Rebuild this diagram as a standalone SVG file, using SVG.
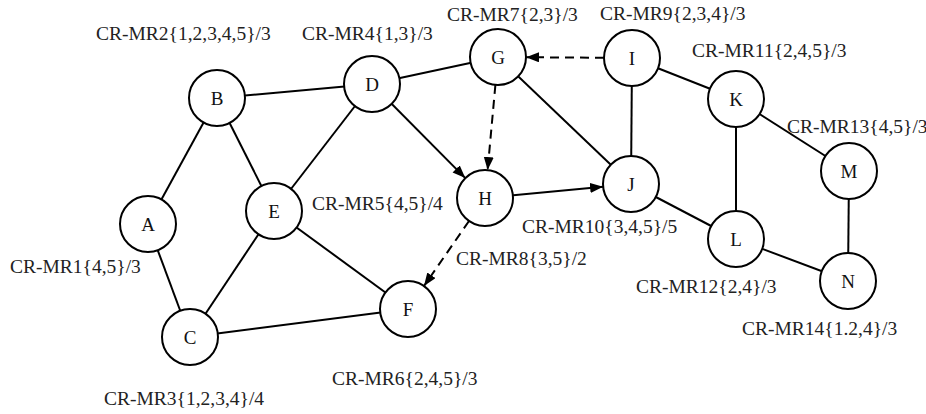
<svg xmlns="http://www.w3.org/2000/svg" width="926" height="414" viewBox="0 0 926 414">
<style>
.e{stroke:#000;stroke-width:2;fill:none}
.d{stroke-dasharray:9 6}
.n circle{fill:#fff;stroke:#000;stroke-width:2}
.n text{font-family:"Liberation Serif",serif;font-size:19px;text-anchor:middle;fill:#111}
.l{font-family:"Liberation Serif",serif;font-size:19.5px;fill:#222}
</style>
<defs>
<marker id="ah" markerUnits="userSpaceOnUse" markerWidth="15" markerHeight="11" refX="13" refY="5" orient="auto"><path d="M0,0 L13,5 L0,10 z" fill="#000"/></marker>
</defs>
<rect width="926" height="414" fill="#fff"/>
<g id="connectors">
<line class="e" x1="148" y1="224" x2="217" y2="98"/>
<line class="e" x1="217" y1="98" x2="274" y2="211"/>
<line class="e" x1="217" y1="98" x2="372" y2="84"/>
<line class="e" x1="148" y1="224" x2="190" y2="337"/>
<line class="e" x1="190" y1="337" x2="274" y2="211"/>
<line class="e" x1="190" y1="337" x2="408" y2="309"/>
<line class="e" x1="274" y1="211" x2="372" y2="84"/>
<line class="e" x1="274" y1="211" x2="408" y2="309"/>
<line class="e" x1="372" y1="84" x2="498" y2="57"/>
<line class="e" x1="498" y1="57" x2="631" y2="184"/>
<line class="e" x1="632" y1="58" x2="631" y2="184"/>
<line class="e" x1="632" y1="58" x2="736" y2="99"/>
<line class="e" x1="736" y1="99" x2="736" y2="239"/>
<line class="e" x1="736" y1="99" x2="849" y2="171"/>
<line class="e" x1="631" y1="184" x2="736" y2="239"/>
<line class="e" x1="736" y1="239" x2="848" y2="281"/>
<line class="e" x1="849" y1="171" x2="848" y2="281"/>
<line class="e" x1="372" y1="84" x2="465.3" y2="178.1" marker-end="url(#ah)"/>
<line class="e" x1="485" y1="198" x2="603.1" y2="186.7" marker-end="url(#ah)"/>
<line class="e d" x1="495.4" y1="84.9" x2="487.6" y2="170.1" marker-end="url(#ah)"/>
<line class="e d" x1="604" y1="57.8" x2="526" y2="57.2" marker-end="url(#ah)"/>
<line class="e d" x1="469" y1="221" x2="424" y2="286" marker-end="url(#ah)"/>
</g>
<g id="A" class="n"><circle cx="148" cy="224" r="28"/><text x="148" y="231">A</text></g>
<g id="B" class="n"><circle cx="217" cy="98" r="28"/><text x="217" y="105">B</text></g>
<g id="C" class="n"><circle cx="190" cy="337" r="28"/><text x="190" y="344">C</text></g>
<g id="D" class="n"><circle cx="372" cy="84" r="28"/><text x="372" y="91">D</text></g>
<g id="E" class="n"><circle cx="274" cy="211" r="28"/><text x="274" y="218">E</text></g>
<g id="F" class="n"><circle cx="408" cy="309" r="28"/><text x="408" y="316">F</text></g>
<g id="G" class="n"><circle cx="498" cy="57" r="28"/><text x="498" y="64">G</text></g>
<g id="H" class="n"><circle cx="485" cy="198" r="28"/><text x="485" y="205">H</text></g>
<g id="I" class="n"><circle cx="632" cy="58" r="28"/><text x="632" y="65">I</text></g>
<g id="J" class="n"><circle cx="631" cy="184" r="28"/><text x="631" y="191">J</text></g>
<g id="K" class="n"><circle cx="736" cy="99" r="28"/><text x="736" y="106">K</text></g>
<g id="L" class="n"><circle cx="736" cy="239" r="28"/><text x="736" y="246">L</text></g>
<g id="M" class="n"><circle cx="849" cy="171" r="28"/><text x="849" y="178">M</text></g>
<g id="N" class="n"><circle cx="848" cy="281" r="28"/><text x="848" y="288">N</text></g>
<g id="labels">
<text class="l" x="10" y="273">CR-MR1{4,5}/3</text>
<text class="l" x="96" y="40">CR-MR2{1,2,3,4,5}/3</text>
<text class="l" x="104" y="405">CR-MR3{1,2,3,4}/4</text>
<text class="l" x="302" y="40">CR-MR4{1,3}/3</text>
<text class="l" x="312" y="210">CR-MR5{4,5}/4</text>
<text class="l" x="332" y="385">CR-MR6{2,4,5}/3</text>
<text class="l" x="447" y="21">CR-MR7{2,3}/3</text>
<text class="l" x="456" y="265">CR-MR8{3,5}/2</text>
<text class="l" x="600" y="20">CR-MR9{2,3,4}/3</text>
<text class="l" x="522" y="233">CR-MR10{3,4,5}/5</text>
<text class="l" x="692" y="57">CR-MR11{2,4,5}/3</text>
<text class="l" x="636" y="293">CR-MR12{2,4}/3</text>
<text class="l" x="787" y="133">CR-MR13{4,5}/3</text>
<text class="l" x="742" y="335">CR-MR14{1.2,4}/3</text>
</g>
</svg>
